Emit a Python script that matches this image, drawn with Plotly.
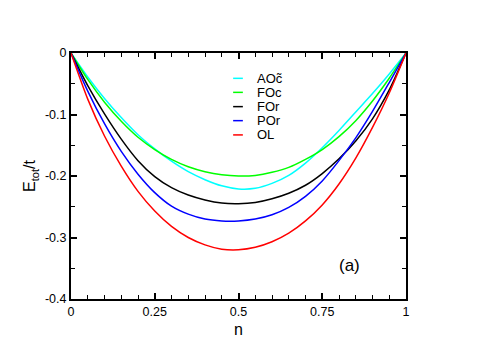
import plotly.graph_objects as go

n = [0, 0.05, 0.1, 0.15, 0.2, 0.25, 0.3, 0.35, 0.4, 0.45, 0.5,
     0.55, 0.6, 0.65, 0.7, 0.75, 0.8, 0.85, 0.9, 0.95, 1.0]

e_aoc = [0, -0.039, -0.074, -0.105, -0.133, -0.156, -0.176, -0.193, -0.206, -0.216, -0.221,
         -0.220, -0.212, -0.199, -0.179, -0.154, -0.126, -0.096, -0.066, -0.034, 0]
e_foc = [0, -0.043, -0.080, -0.111, -0.137, -0.157, -0.173, -0.185, -0.193, -0.198, -0.200,
         -0.199, -0.194, -0.186, -0.173, -0.157, -0.136, -0.110, -0.078, -0.041, 0]
e_for = [0, -0.053, -0.099, -0.140, -0.175, -0.201, -0.219, -0.231, -0.239, -0.244, -0.245,
         -0.243, -0.237, -0.228, -0.215, -0.196, -0.172, -0.143, -0.107, -0.060, 0]
e_por = [0, -0.062, -0.115, -0.160, -0.197, -0.227, -0.249, -0.262, -0.270, -0.273, -0.273,
         -0.270, -0.263, -0.251, -0.233, -0.208, -0.175, -0.138, -0.095, -0.048, 0]
e_ol = [0, -0.075, -0.135, -0.184, -0.225, -0.257, -0.282, -0.300, -0.312, -0.319, -0.320,
        -0.316, -0.307, -0.293, -0.273, -0.247, -0.213, -0.171, -0.121, -0.065, 0]

names = ["AOc\u0303", "FOc", "FOr", "POr", "OL"]
colors = ["#00ffff", "#00ff00", "#000000", "#0000ff", "#ff0000"]
series = [e_aoc, e_foc, e_for, e_por, e_ol]

x_ticks = [0, 0.25, 0.5, 0.75, 1]
x_labels = ["0", "0.25", "0.5", "0.75", "1"]
y_ticks = [0, -0.1, -0.2, -0.3, -0.4]
y_labels = ["0", "-0.1", "-0.2", "-0.3", "-0.4"]

fig = go.Figure()
for name, col, e in zip(names, colors, series):
    fig.add_trace(go.Scatter(x=n, y=e, name=name, mode="lines",
                             line=dict(color=col, width=1.5, shape="spline", smoothing=0.7)))

# hand-made legend: short line + text, like the original
leg_y = [0.897, 0.840, 0.782, 0.725, 0.667]
for name, col, yy in zip(names, colors, leg_y):
    fig.add_shape(type="line", xref="paper", yref="paper",
                  x0=0.484, x1=0.513, y0=yy, y1=yy, line=dict(color=col, width=1.5))
    fig.add_annotation(x=0.549, y=yy, xref="paper", yref="paper", text=name,
                       showarrow=False, xanchor="left", yanchor="middle",
                       font=dict(size=13, color="black"))

fig.add_annotation(x=0.83, y=-0.345, xref="x", yref="y", text="(a)", showarrow=False,
                   font=dict(size=17, color="black"))

axis_common = dict(showgrid=False, zeroline=False, showline=True, linecolor="black",
                   linewidth=2, mirror="ticks", ticks="inside", ticklen=6, tickwidth=1.5,
                   tickcolor="black", tickfont=dict(size=12.5, color="black"), automargin=False)

fig.update_xaxes(range=[0, 1], tickvals=x_ticks, ticktext=x_labels,
                 minor=dict(ticks="inside", ticklen=4, dtick=0.05, tickcolor="black", tickwidth=1),
                 title=dict(text="n", font=dict(size=16, color="black"), standoff=6),
                 **axis_common)
fig.update_yaxes(range=[-0.4, 0], tickvals=y_ticks, ticktext=y_labels,
                 minor=dict(ticks="inside", ticklen=4, dtick=0.05, tickcolor="black", tickwidth=1),
                 title=dict(text="E<sub>tot</sub>/t", font=dict(size=16, color="black"), standoff=5),
                 **axis_common)

# the page body adds an 8 px margin, so left/top margins are 8 px smaller
fig.update_layout(width=486, height=343, showlegend=False,
                  plot_bgcolor="white", paper_bgcolor="white",
                  font=dict(family="Liberation Sans, Arial, sans-serif", color="black"),
                  margin=dict(l=63, r=88, t=45, b=52))

fig.write_html("out.html")
